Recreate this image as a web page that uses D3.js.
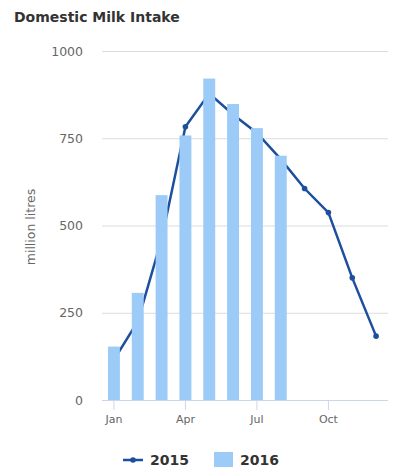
<!DOCTYPE html>
<html>
<head>
<meta charset="utf-8">
<script src="https://cdn.jsdelivr.net/npm/d3@7"></script>
<style>
  body { margin: 0; background: #fff; }
  svg { display: block; font-family: "DejaVu Sans", sans-serif; }
</style>
</head>
<body>
<div id="container"></div>
<script>
let w = 399;
let h = 476;

// data
let months = ["Jan", "Feb", "Mar", "Apr", "May", "Jun", "Jul", "Aug", "Sep", "Oct", "Nov", "Dec"];
let intake2015 = [115, 225, 460, 783, 878, 818, 765, 690, 606, 537, 350, 183];
let intake2016 = [153, 307, 587, 758, 921, 848, 779, 700];
let yTicks = [0, 250, 500, 750, 1000];
let xTicks = ["Jan", "Apr", "Jul", "Oct"];

let lineColor = "#1d4f9e";
let barColor = "#9ccbf8";

let viz = d3.select("#container")
  .append("svg")
    .attr("width", w)
    .attr("height", h)
;

let x = d3.scaleBand()
  .domain(months)
  .range([102, 388])
  .paddingInner(0.5)
  .paddingOuter(0.25)
;

let y = d3.scaleLinear()
  .domain([0, 1000])
  .range([400, 51])
;

function xMid(m){
  return x(m) + x.bandwidth() / 2;
}

// title
viz.append("text")
  .text("Domestic Milk Intake")
  .attr("x", 14)
  .attr("y", 22)
  .style("font-size", "14px")
  .style("font-weight", "bold")
  .style("fill", "#333")
;

// gridlines
viz.selectAll(".grid").data(yTicks).enter()
  .append("line")
    .attr("class", "grid")
    .attr("x1", 102)
    .attr("x2", 388)
    .attr("y1", d => y(d) + 0.5)
    .attr("y2", d => y(d) + 0.5)
    .style("stroke", "#dcdcdc")
    .style("stroke-width", 1)
;

// y axis labels
let yAxis = viz.append("g")
  .attr("transform", "translate(83,0)")
  .call(d3.axisLeft(y).tickValues(yTicks).tickFormat(d3.format("d")).tickSize(0).tickPadding(0))
;
yAxis.select(".domain").remove();
yAxis.selectAll("text")
  .style("font-size", "12.5px")
  .style("fill", "#666")
  .style("font-family", "DejaVu Sans, sans-serif")
;

viz.append("text")
  .text("million litres")
  .attr("transform", "translate(35,227) rotate(-90)")
  .attr("text-anchor", "middle")
  .style("font-size", "12.5px")
  .style("fill", "#666")
;

// x axis
let xAxis = viz.append("g")
  .attr("transform", "translate(0,400)")
  .call(d3.axisBottom(x).tickValues(xTicks).tickSize(10).tickPadding(5))
;
xAxis.select(".domain")
  .attr("d", "M102,0.5H388")
  .style("stroke", "#ccd6eb")
;
xAxis.selectAll(".tick line").style("stroke", "#ccd6eb");
xAxis.selectAll("text")
  .style("font-size", "11px")
  .style("fill", "#666")
  .style("font-family", "DejaVu Sans, sans-serif")
;

// 2015 line (drawn behind the bars)
let line = d3.line()
  .x((d, i) => xMid(months[i]))
  .y(d => y(d))
;

viz.append("path")
  .datum(intake2015)
  .attr("d", line)
  .attr("fill", "none")
  .style("stroke", lineColor)
  .style("stroke-width", 2.5)
;

viz.selectAll(".dot").data(intake2015).enter()
  .append("circle")
    .attr("class", "dot")
    .attr("cx", (d, i) => xMid(months[i]))
    .attr("cy", d => y(d))
    .attr("r", 2.8)
    .style("fill", lineColor)
;

// 2016 bars
viz.selectAll(".bar").data(intake2016).enter()
  .append("rect")
    .attr("class", "bar")
    .attr("x", (d, i) => x(months[i]))
    .attr("y", d => y(d))
    .attr("width", x.bandwidth())
    .attr("height", d => y(0) - y(d))
    .style("fill", barColor)
;

// legend
let legend = viz.append("g");
legend.append("line")
  .attr("x1", 123).attr("x2", 143)
  .attr("y1", 460).attr("y2", 460)
  .style("stroke", lineColor)
  .style("stroke-width", 2.5)
;
legend.append("circle")
  .attr("cx", 133).attr("cy", 460).attr("r", 2.8)
  .style("fill", lineColor)
;
legend.append("text")
  .text("2015")
  .attr("x", 150).attr("y", 465)
  .style("font-size", "14px")
  .style("font-weight", "bold")
  .style("fill", "#333")
;
legend.append("rect")
  .attr("x", 214).attr("y", 452)
  .attr("width", 19).attr("height", 15)
  .style("fill", barColor)
;
legend.append("text")
  .text("2016")
  .attr("x", 240).attr("y", 465)
  .style("font-size", "14px")
  .style("font-weight", "bold")
  .style("fill", "#333")
;
</script>
</body>
</html>
